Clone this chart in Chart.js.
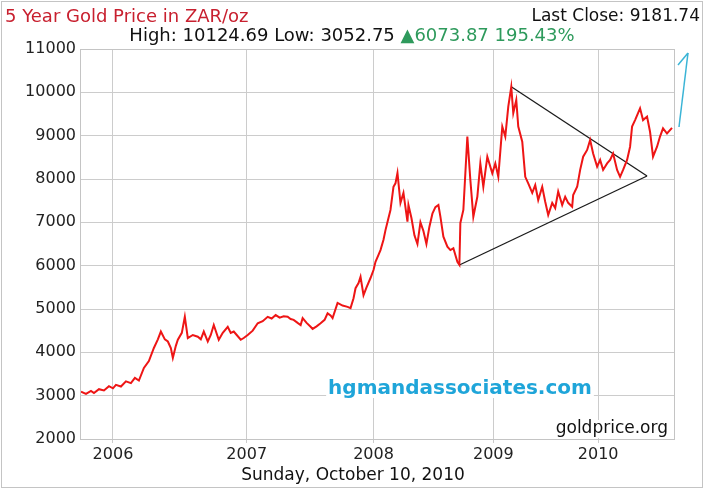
<!DOCTYPE html>
<html>
<head>
<meta charset="utf-8">
<title>5 Year Gold Price in ZAR/oz</title>
<script src="https://cdn.jsdelivr.net/npm/chart.js@4.4.1/dist/chart.umd.min.js"></script>
<style>
  html, body { margin: 0; padding: 0; background: #fff; }
  canvas { display: block; }
</style>
</head>
<body>
<canvas id="goldChart" width="707" height="490"></canvas>
<script>
// position along the time axis (arbitrary steps, 0 = left edge of the window)
const steps = [
  0, 5, 10, 13, 18, 23, 28, 32, 35, 40, 45, 50, 54, 58, 63, 68, 73, 77, 80, 84,
  87, 90, 92, 95, 97, 101, 104, 107, 112, 117, 120, 123, 127, 130, 133, 138, 142, 147, 150, 153,
  156, 160, 163, 167, 172, 177, 182, 187, 191, 195, 199, 203, 207, 210, 213, 217, 220, 222, 226, 230,
  232, 236, 240, 244, 247, 250, 252, 257, 262, 267, 270, 273, 275, 278, 280, 283, 286, 290, 293, 295,
  298, 300, 303, 305, 308, 310, 313, 315, 317, 320, 323, 327, 328, 331, 334, 337, 340, 343, 346, 349,
  352, 355, 358, 360, 363, 367, 370, 373, 377, 379, 380, 383, 387, 390, 393, 397, 400, 403, 407, 412,
  415, 418, 422, 425, 428, 431, 433, 436, 438, 442, 445, 448, 452, 455, 458, 462, 465, 468, 472, 475,
  478, 482, 485, 488, 492, 493, 497, 500, 503, 507, 510, 513, 517, 520, 523, 527, 530, 533, 537, 540,
  543, 547, 550, 552, 555, 560, 563, 567, 570, 573, 577, 580, 583, 587, 592
];
// gold price in rand per ounce
const price = [
  3090, 3040, 3110, 3060, 3150, 3120, 3220, 3170, 3250, 3210, 3330, 3290, 3410, 3350, 3640, 3800, 4100, 4300, 4480, 4300,
  4250, 4100, 3870, 4150, 4290, 4450, 4820, 4330, 4400, 4360, 4300, 4480, 4250, 4400, 4630, 4290, 4450, 4590, 4450, 4480,
  4400, 4290, 4330, 4400, 4500, 4670, 4720, 4820, 4780, 4860, 4800, 4830, 4820, 4770, 4750, 4680, 4630, 4790, 4680, 4590,
  4540, 4600, 4670, 4750, 4900, 4850, 4790, 5140, 5080, 5050, 5020, 5250, 5480, 5600, 5745, 5320, 5500, 5715, 5900, 6090,
  6250, 6360, 6600, 6820, 7100, 7285, 7820, 7900, 8140, 7450, 7680, 7015, 7400, 7100, 6700, 6500, 7000, 6800, 6500, 6900,
  7200, 7350, 7400, 7130, 6670, 6440, 6360, 6400, 6090, 6020, 6985, 7285, 8980, 7980, 7130, 7590, 8360, 7820, 8515, 8130,
  8360, 8050, 9210, 8980, 9670, 10125, 9520, 9825, 9210, 8860, 8050, 7900, 7680, 7860, 7515, 7820, 7475, 7170, 7450, 7330,
  7710, 7400, 7590, 7450, 7360, 7630, 7820, 8210, 8515, 8670, 8900, 8590, 8285, 8440, 8210, 8360, 8440, 8590, 8210, 8050,
  8210, 8440, 8745, 9210, 9360, 9630, 9360, 9440, 9090, 8515, 8745, 8980, 9170, 9050, 9180
];

const yearSteps = [32, 166, 293, 413, 518];
const yearLabels = ['2006', '2007', '2008', '2009', '2010'];

// hand drawn triangle and arrow (step, price)
const triangleLower = [[379, 6015], [567, 8070]];
const triangleUpper = [[431, 10130], [567, 8070]];
const arrowShaft = [[599, 9200], [608, 10908]];
const arrowHead = [[598, 10631], [608, 10908], [613, 10585]];

const titleText = '5 Year Gold Price in ZAR/oz';
const lastCloseText = 'Last Close: 9181.74';
const rangeText = 'High: 10124.69 Low: 3052.75 ';
const changeText = '\u25B26073.87 195.43%';
const dateText = 'Sunday, October 10, 2010';
const watermark = 'hgmandassociates.com';
const sourceText = 'goldprice.org';

const toPts = arr => arr.map(p => ({ x: p[0], y: p[1] }));

const decorations = {
  id: 'decorations',
  beforeDraw(chart) {
    const c = chart.ctx;
    c.save();
    c.fillStyle = '#fff';
    c.fillRect(0, 0, chart.width, chart.height);
    c.restore();
  },
  beforeDatasetsDraw(chart) {
    const c = chart.ctx;
    const a = chart.chartArea;
    c.save();
    // frame around plot
    c.strokeStyle = '#c4c4c4';
    c.lineWidth = 1;
    c.strokeRect(a.left - 0.5, a.top + 0.5, a.right - a.left, a.bottom - a.top);
    // watermark with white box
    c.font = 'bold 20px "DejaVu Sans"';
    c.textBaseline = 'middle';
    c.textAlign = 'center';
    const w = c.measureText(watermark).width;
    c.fillStyle = '#fff';
    c.fillRect(460 - w / 2 - 2, 380, w + 4, 18);
    c.fillStyle = '#1fa5d9';
    c.fillText(watermark, 460, 389);
    // source label
    c.font = '17px "DejaVu Sans"';
    c.textAlign = 'right';
    const sw = c.measureText(sourceText).width;
    c.fillStyle = '#fff';
    c.fillRect(668 - sw - 3, 420, sw + 6, 18);
    c.fillStyle = '#111';
    c.fillText(sourceText, 668, 429);
    c.restore();
  },
  afterDraw(chart) {
    const c = chart.ctx;
    c.save();
    c.textBaseline = 'middle';
    c.font = '18px "DejaVu Sans"';
    c.textAlign = 'left';
    c.fillStyle = '#c8202f';
    c.fillText(titleText, 5, 17);
    c.font = '17px "DejaVu Sans"';
    c.textAlign = 'right';
    c.fillStyle = '#111';
    c.fillText(lastCloseText, 700, 17);
    // second header line, centred
    c.font = '18px "DejaVu Sans"';
    const w1 = c.measureText(rangeText).width;
    const w2 = c.measureText(changeText).width;
    let x = 352 - (w1 + w2) / 2;
    c.textAlign = 'left';
    c.fillStyle = '#111';
    c.fillText(rangeText, x, 36);
    c.fillStyle = '#2e9a5c';
    c.fillText(changeText, x + w1, 36);
    // date under the axis
    c.font = '17px "DejaVu Sans"';
    c.textAlign = 'center';
    c.fillStyle = '#111';
    c.fillText(dateText, 353, 476);
    // outer frame
    c.strokeStyle = '#c4c4c4';
    c.strokeRect(1.5, 1.5, 701, 486);
    c.restore();
  }
};

const config = {
  type: 'line',
  data: {
    datasets: [
      {
        label: 'Gold ZAR/oz',
        data: steps.map((s, i) => ({ x: s, y: price[i] })),
        borderColor: '#ee1515',
        borderWidth: 2,
        pointRadius: 0,
        tension: 0
      },
      {
        label: 'lower',
        data: toPts(triangleLower),
        borderColor: '#1a1a1a',
        borderWidth: 1.3,
        pointRadius: 0
      },
      {
        label: 'upper',
        data: toPts(triangleUpper),
        borderColor: '#1a1a1a',
        borderWidth: 1.3,
        pointRadius: 0
      },
      {
        label: 'arrow',
        data: toPts(arrowShaft),
        borderColor: '#3ab4d6',
        borderWidth: 1.5,
        pointRadius: 0,
        clip: false
      },
      {
        label: 'arrowhead',
        data: toPts(arrowHead),
        borderColor: '#3ab4d6',
        borderWidth: 1.5,
        pointRadius: 0,
        clip: false
      }
    ]
  },
  options: {
    responsive: false,
    animation: false,
    layout: { padding: { left: 0, top: 49, right: 32, bottom: 0 } },
    plugins: {
      legend: { display: false },
      tooltip: { enabled: false }
    },
    scales: {
      x: {
        type: 'linear',
        min: 0,
        max: 595,
        afterBuildTicks: scale => {
          scale.ticks = yearSteps.map(v => ({ value: v }));
        },
        afterFit: scale => { scale.height = 51; },
        grid: { color: '#cccccc', tickLength: 4, drawTicks: true },
        border: { display: false },
        ticks: {
          autoSkip: false,
          maxRotation: 0,
          padding: 2,
          color: '#222',
          font: { family: 'DejaVu Sans', size: 16 },
          callback: (value, index) => yearLabels[index]
        }
      },
      y: {
        min: 2000,
        max: 11000,
        afterFit: scale => { scale.width = 81; },
        grid: { color: '#cccccc', drawTicks: false },
        border: { display: false },
        ticks: {
          stepSize: 1000,
          padding: 5,
          color: '#222',
          font: { family: 'DejaVu Sans', size: 16 },
          callback: value => String(value)
        }
      }
    }
  },
  plugins: [decorations]
};

new Chart(document.getElementById('goldChart').getContext('2d'), config);
</script>
</body>
</html>
